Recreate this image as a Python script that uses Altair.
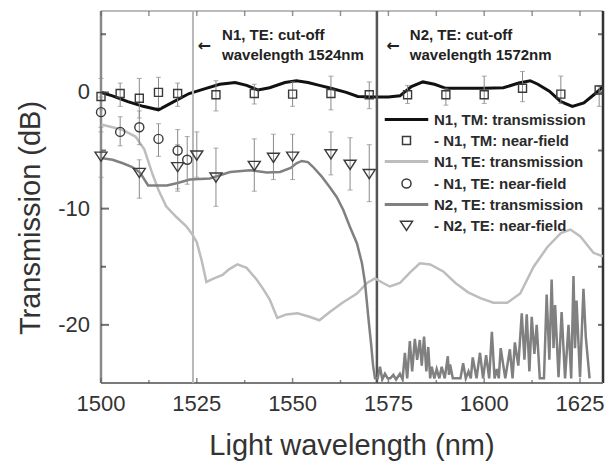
import altair as alt
import pandas as pd

# ---------------- data ----------------
X_DOMAIN = [1500, 1631]
Y_DOMAIN = [-25, 7]
X_MAJOR = [1500, 1525, 1550, 1575, 1600, 1625]
X_MINOR = [1512.5, 1537.5, 1562.5, 1587.5, 1612.5]
Y_MAJOR = [-20, -10, 0]
Y_MINOR = [-15, -5, 5]
X_TITLE = "Light wavelength (nm)"
Y_TITLE = "Transmission (dB)"

SERIES = ["N1, TM: transmission", "- N1, TM: near-field",
          "N1, TE: transmission", "- N1, TE:  near-field",
          "N2, TE: transmission", "- N2, TE: near-field"]
SERIES_COLORS = ["#111111", "#3a3a3a", "#bdbdbd", "#3a3a3a", "#808080", "#3a3a3a"]
LINE_SYM = "M-5.25,-0.2H5.25V0.2H-5.25Z"
SQUARE = "M-5.25,0M5.25,0M-1,-1H1V1H-1Z"
CIRCLE = "M-5.25,0M5.25,0M1.13,0A1.13,1.13,0,1,1,-1.13,0A1.13,1.13,0,1,1,1.13,0Z"
TRI_DOWN = "M-5.25,0M5.25,0M-1.5,-1.05L1.5,-1.05L0,1.25Z"
SERIES_SHAPES = [LINE_SYM, SQUARE, LINE_SYM, CIRCLE, LINE_SYM, TRI_DOWN]

# N1, TM transmission
TM_NM = [1500, 1503, 1507, 1511, 1515, 1519, 1523, 1527, 1531, 1535, 1538, 1541, 1544,
         1548, 1551, 1554, 1557, 1560, 1564, 1567, 1571, 1575, 1578, 1581, 1584, 1587,
         1590, 1595, 1600, 1605, 1609, 1612, 1614, 1617, 1620, 1623, 1626, 1629, 1632]
TM_DB = [0, -0.3, -0.8, -1.2, -1.5, -0.8, -0.1, 0.3, 0.7, 0.85, 0.6, 0.2, 0.4,
         0.85, 1.0, 0.85, 0.6, 0.35, 0.0, -0.35, -0.4, -0.4, -0.3, 0.5, 0.9, 0.7,
         0.35, 0.35, 0.35, 0.4, 0.8, 1.0, 0.7, 0.1, -0.8, -1.2, -0.9, -0.1, 0.8]

# N1, TE transmission
N1_NM = [1500, 1503, 1505.5, 1509, 1511.3, 1513.3, 1515, 1517, 1519.6, 1522.2,
         1523.8, 1525, 1526.3, 1527.5, 1529.5, 1531.7, 1533.5, 1535.6, 1538, 1540.6,
         1542.3, 1544, 1546, 1548.4, 1551.3, 1554.4, 1557, 1559.7, 1563, 1566.8,
         1569.4, 1571.5, 1573.6, 1575.4, 1578, 1580.6, 1583.2, 1585.9, 1589.3, 1592.5,
         1595.8, 1599, 1602.4, 1606, 1609.4, 1612.9, 1616.5, 1620, 1622.5, 1625.1,
         1628.5, 1631]
N1_DB = [-2.76, -3.0, -3.2, -3.8, -4.9, -6.9, -8.4, -9.8, -10.7, -11.5,
         -12.2, -12.9, -14.5, -16.3, -16.0, -15.7, -15.2, -14.8, -15.1, -16.1,
         -16.9, -17.8, -19.4, -19.1, -19.0, -19.3, -19.6, -18.9, -18.1, -17.3,
         -16.4, -16.0, -16.4, -16.7, -16.4, -15.5, -14.7, -14.8, -15.4, -16.4,
         -17.2, -17.7, -18.1, -18.1, -17.3, -15.0, -13.3, -12.1, -11.8, -12.4,
         -13.8, -14.1]

# N2, TE transmission (cut-off edge, then noise floor)
N2_NM = [1500, 1503, 1505.7, 1508, 1510.2, 1512.3, 1514.5, 1517.2, 1520, 1523.2,
         1528.4, 1533.7, 1538.9, 1543.3, 1546.7, 1549.5, 1551, 1552.4, 1554, 1555.3,
         1557.5, 1559.8, 1561.5, 1563.2, 1565, 1566.8, 1568.1, 1568.9, 1569.4, 1569.9,
         1570.5, 1571, 1571.5]
N2_DB = [-5.65, -5.8, -6.1, -6.4, -6.9, -8.0, -8.0, -8.0, -7.8, -7.5,
         -7.4, -6.85, -6.7, -6.9, -6.85, -6.5, -6.1, -5.9, -6.0, -6.4,
         -7.2, -8.2, -9.0, -10.1, -11.6, -13.0, -14.7, -16.4, -18.1, -19.8,
         -21.7, -23.5, -24.6]
NOISE_NM = [1572.2, 1572.8, 1573.4, 1574.1, 1574.8, 1575.5, 1576.3, 1577.0, 1578.0, 1578.7,
            1579.3, 1579.9, 1580.6, 1581.2, 1581.9, 1582.5, 1583.2, 1583.7, 1584.3, 1584.9,
            1585.4, 1585.9, 1586.3, 1587.0, 1587.6, 1588.3, 1588.9, 1589.7, 1590.5, 1590.8,
            1591.1, 1591.8, 1593.8, 1594.5, 1595.2, 1595.9, 1596.5, 1597.0, 1598.0, 1598.9,
            1599.7, 1600.5, 1601.3, 1602.0, 1602.7, 1603.3, 1603.8, 1604.3, 1605.5, 1606.7,
            1607.4, 1608.0, 1608.9, 1609.8, 1610.5, 1611.1, 1611.8, 1612.4, 1613.1, 1613.7,
            1614.5, 1615.6, 1616.3, 1617.0, 1617.6, 1618.1, 1618.5, 1619.4, 1620.2, 1621.1,
            1622.0, 1622.7, 1623.3, 1623.7, 1624.1, 1625.0, 1625.9, 1626.5, 1627.5]
NOISE_DB = [-24.6, -23.6, -24.7, -24.2, -24.6, -24.6, -24.3, -24.7, -24.2, -24.7,
            -22.4, -24.6, -21.4, -24.0, -21.2, -23.0, -21.3, -23.5, -21.0, -24.0,
            -21.9, -24.6, -23.6, -24.6, -23.8, -24.6, -23.6, -24.6, -22.7, -24.3,
            -23.4, -24.6, -24.6, -23.3, -24.6, -24.0, -24.6, -22.8, -24.6, -22.4,
            -24.6, -22.6, -24.6, -20.6, -24.6, -23.8, -24.6, -22.0, -24.6, -22.1,
            -24.6, -21.5, -23.5, -19.0, -23.0, -19.1, -24.0, -19.3, -22.5, -20.0,
            -24.6, -24.6, -17.4, -23.0, -16.1, -22.0, -18.3, -24.5, -18.9, -24.6,
            -20.0, -24.6, -15.8, -22.0, -17.9, -24.5, -16.9, -21.0, -24.6]

# near-field measurements with error bars
TMN_NM = [1500, 1505, 1510, 1515, 1520, 1530, 1540, 1550, 1560, 1570, 1580, 1590, 1600, 1610, 1620, 1630]
TMN_DB = [-0.35, -0.1, -0.5, 0.0, -0.1, -0.2, -0.1, -0.15, -0.1, -0.2, -0.2, -0.2, -0.2, 0.35, -0.15, 0.2]
TMN_LO = [-1.5, -1.2, -2.2, -1.3, -1.2, -1.6, -1.0, -1.2, -1.5, -1.4, -0.95, -1.1, -0.95, -0.8, -0.95, -1.2]
TMN_HI = [1.2, 0.8, 1.2, 1.3, 0.8, 1.0, 0.7, 0.9, 1.4, 0.9, 0.6, 0.3, 1.4, 1.8, 1.4, 0.6]

TE1N_NM = [1500, 1505, 1510, 1515, 1520, 1522.5]
TE1N_DB = [-1.7, -3.4, -3.0, -4.0, -5.0, -5.8]
TE1N_LO = [-3.0, -4.6, -4.5, -5.5, -8.3, -7.9]
TE1N_HI = [-0.4, -2.1, -1.6, -2.7, -3.2, -3.8]

TE2N_NM = [1500, 1510, 1520, 1525, 1530, 1540, 1545, 1550, 1560, 1565, 1570]
TE2N_DB = [-5.5, -6.9, -6.4, -5.4, -7.3, -6.3, -5.6, -5.5, -5.3, -6.2, -7.0]
TE2N_LO = [-7.3, -9.1, -8.5, -7.3, -9.8, -8.5, -7.5, -7.5, -7.1, -8.4, -9.4]
TE2N_HI = [-3.4, -5.8, -4.5, -3.4, -4.8, -4.0, -3.6, -3.6, -3.4, -3.9, -4.5]

# cut-off markers and annotations
CUT_LIGHT_NM = [1524]
CUT_DARK_NM = [1572]
ANN_TEXT = ["N1, TE: cut-off", "wavelength 1524nm", "N2, TE: cut-off", "wavelength 1572nm"]
ANN_NM = [1531.6, 1531.6, 1580.6, 1580.6]
ANN_DB = [4.95, 3.2, 4.95, 3.2]
ARROW_NM = [1526.9, 1576.2]
ARROW_DB = [3.95, 3.95]

# ---------------- tables ----------------
W, H = 502, 372
FONT = "Liberation Sans"
X_MID = (X_DOMAIN[0] + X_DOMAIN[1]) / 2
Y_MID = (Y_DOMAIN[0] + Y_DOMAIN[1]) / 2

df_tm = pd.DataFrame({"nm": TM_NM, "db": TM_DB, "series": SERIES[0]})
df_n1 = pd.DataFrame({"nm": N1_NM, "db": N1_DB, "series": SERIES[2]})
df_n2 = pd.DataFrame({"nm": N2_NM + NOISE_NM, "db": N2_DB + NOISE_DB, "series": SERIES[4]})
df_nf = pd.concat([
    pd.DataFrame({"nm": TMN_NM, "db": TMN_DB, "lo": TMN_LO, "hi": TMN_HI, "series": SERIES[1]}),
    pd.DataFrame({"nm": TE1N_NM, "db": TE1N_DB, "lo": TE1N_LO, "hi": TE1N_HI, "series": SERIES[3]}),
    pd.DataFrame({"nm": TE2N_NM, "db": TE2N_DB, "lo": TE2N_LO, "hi": TE2N_HI, "series": SERIES[5]}),
], ignore_index=True)
df_cut_l = pd.DataFrame({"nm": CUT_LIGHT_NM})
df_cut_d = pd.DataFrame({"nm": CUT_DARK_NM})
df_ann = pd.DataFrame({"nm": ANN_NM, "db": ANN_DB, "text": ANN_TEXT})
df_arr = pd.DataFrame({"nm": ARROW_NM, "db": ARROW_DB, "text": ["←", "←"]})

# frame edges, inward ticks, tick labels and axis titles (from the tick arrays and domain ends)
df_left_edge = pd.DataFrame({"nm": [X_DOMAIN[0]]})
df_right_edge = pd.DataFrame({"nm": [X_DOMAIN[1]]})
df_bottom_edge = pd.DataFrame({"db": [Y_DOMAIN[0]]})
df_top_edge = pd.DataFrame({"db": [Y_DOMAIN[1]]})
df_xt_major_bot = pd.DataFrame({"nm": X_MAJOR, "db": Y_DOMAIN[0]})
df_xt_minor_bot = pd.DataFrame({"nm": X_MINOR, "db": Y_DOMAIN[0]})
df_xt_top = pd.DataFrame({"nm": X_MAJOR + X_MINOR, "db": Y_DOMAIN[1]})
df_yt_major_left = pd.DataFrame({"nm": X_DOMAIN[0], "db": Y_MAJOR})
df_yt_minor_left = pd.DataFrame({"nm": X_DOMAIN[0], "db": Y_MINOR})
df_yt_right = pd.DataFrame({"nm": X_DOMAIN[1], "db": Y_MAJOR + Y_MINOR})
df_xlab = pd.DataFrame({"nm": X_MAJOR, "db": Y_DOMAIN[0], "text": [str(v) for v in X_MAJOR]})
df_ylab = pd.DataFrame({"nm": X_DOMAIN[0], "db": Y_MAJOR, "text": [str(v) for v in Y_MAJOR]})
df_xtitle = pd.DataFrame({"nm": [X_MID], "db": [Y_DOMAIN[0]], "text": [X_TITLE]})
df_ytitle = pd.DataFrame({"nm": [X_DOMAIN[0]], "db": [Y_MID], "text": [Y_TITLE]})

xscale = alt.Scale(domain=X_DOMAIN, nice=False, zero=False)
yscale = alt.Scale(domain=Y_DOMAIN, nice=False, zero=False)


def X():
    return alt.X("nm:Q", scale=xscale, axis=None)


def Y(field="db"):
    return alt.Y(f"{field}:Q", scale=yscale, axis=None)


leg = alt.Legend(title=None, orient="none", direction="vertical", legendX=298, legendY=101,
                 padding=0, labelFont=FONT, labelFontSize=15, labelFontWeight="bold",
                 labelColor="#2a2a2a", labelLimit=400, labelOffset=20, rowPadding=5,
                 symbolSize=64, symbolStrokeWidth=1.5)
cscale = alt.Scale(domain=SERIES, range=SERIES_COLORS)
sscale = alt.Scale(domain=SERIES, range=SERIES_SHAPES)


def COLOR():
    return alt.Color("series:N", scale=cscale, legend=leg)


# ---------------- frame layers ----------------
left_edge = alt.Chart(df_left_edge).mark_rule(color="#8a8a8a", strokeWidth=2.5).encode(x=X())
right_edge = alt.Chart(df_right_edge).mark_rule(color="#333333", strokeWidth=2.5).encode(x=X())
bottom_edge = alt.Chart(df_bottom_edge).mark_rule(color="#7a7a7a", strokeWidth=2).encode(y=Y())
top_edge = alt.Chart(df_top_edge).mark_rule(color="#bbbbbb", strokeWidth=2).encode(y=Y())


def vticks(df, size, color, sign):
    return alt.Chart(df).mark_tick(orient="vertical", size=size, thickness=1.5, color=color,
                                   yOffset=sign * size / 2).encode(x=X(), y=Y())


def hticks(df, size, color, sign):
    return alt.Chart(df).mark_tick(orient="horizontal", size=size, thickness=2, color=color,
                                   xOffset=sign * size / 2).encode(x=X(), y=Y())


tick_layers = [
    vticks(df_xt_major_bot, 5, "#555555", -1),
    vticks(df_xt_minor_bot, 3, "#555555", -1),
    vticks(df_xt_top, 5, "#666666", 1),
    hticks(df_yt_major_left, 8, "#333333", 1),
    hticks(df_yt_minor_left, 5, "#333333", 1),
    hticks(df_yt_right, 5, "#333333", -1),
]

x_labels = alt.Chart(df_xlab).mark_text(font=FONT, fontSize=22, color="#333333", align="center",
                                        baseline="alphabetic", dy=28).encode(
    x=X(), y=Y(), text="text:N")
y_labels = alt.Chart(df_ylab).mark_text(font=FONT, fontSize=22, color="#333333", align="right",
                                        baseline="middle", dx=-11).encode(
    x=X(), y=Y(), text="text:N")
x_title = alt.Chart(df_xtitle).mark_text(font=FONT, fontSize=29, color="#333333", align="center",
                                         baseline="alphabetic", dy=72).encode(
    x=X(), y=Y(), text="text:N")
y_title = alt.Chart(df_ytitle).mark_text(font=FONT, fontSize=29, color="#333333", align="center",
                                         baseline="alphabetic", angle=270, dx=-21, dy=-61).encode(
    x=X(), y=Y(), text="text:N")

# ---------------- data layers ----------------
cut_l = alt.Chart(df_cut_l).mark_rule(color="#b8b8b8", strokeWidth=2).encode(x=X())
cut_d = alt.Chart(df_cut_d).mark_rule(color="#555555", strokeWidth=2.5).encode(x=X())

n1_line = alt.Chart(df_n1).mark_line(strokeWidth=2.5, clip=True).encode(
    x=X(), y=Y(), color=COLOR())
n2_line = alt.Chart(df_n2).mark_line(strokeWidth=2.5, clip=True).encode(
    x=X(), y=Y(), color=COLOR())
tm_line = alt.Chart(df_tm).mark_line(strokeWidth=3, clip=True).encode(
    x=X(), y=Y(), color=COLOR())

err = alt.Chart(df_nf).mark_rule(color="#8a8a8a", strokeWidth=1).encode(
    x=X(), y=Y("lo"), y2="hi:Q")
cap_lo = alt.Chart(df_nf).mark_tick(color="#8a8a8a", orient="horizontal", size=5, thickness=1).encode(
    x=X(), y=Y("lo"))
cap_hi = alt.Chart(df_nf).mark_tick(color="#8a8a8a", orient="horizontal", size=5, thickness=1).encode(
    x=X(), y=Y("hi"))
pts = alt.Chart(df_nf).mark_point(filled=False, size=64, strokeWidth=1.4, opacity=1).encode(
    x=X(), y=Y(), color=COLOR(), shape=alt.Shape("series:N", scale=sscale, legend=leg))

ann = alt.Chart(df_ann).mark_text(align="left", baseline="middle", font=FONT, fontSize=15,
                                  fontWeight="bold", color="#222222").encode(
    x=X(), y=Y(), text="text:N")
arrows = alt.Chart(df_arr).mark_text(align="center", baseline="middle", font="DejaVu Sans",
                                     fontSize=16, fontWeight="bold", color="#222222").encode(
    x=X(), y=Y(), text="text:N")

chart = alt.layer(
    tm_line, top_edge, right_edge, left_edge, bottom_edge, *tick_layers,
    cut_l, cut_d, n1_line, n2_line, err, cap_lo, cap_hi, pts, ann, arrows,
    x_labels, y_labels, x_title, y_title
).properties(
    width=W, height=H,
    padding={"left": 101, "top": 11, "right": 6, "bottom": 83},
    autosize=alt.AutoSizeParams(type="none"),
    background="white",
).configure(font=FONT).configure_view(stroke=None)

chart.save("out.html", embed_options={"renderer": "svg", "actions": False})
